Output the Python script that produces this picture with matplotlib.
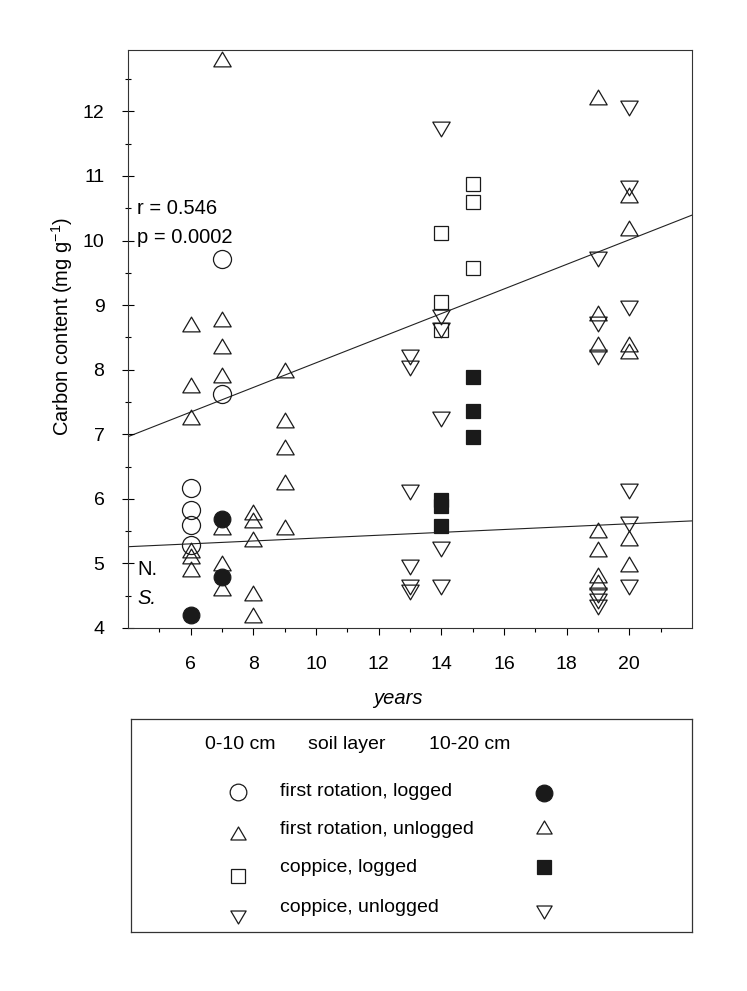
import matplotlib.pyplot as plt
from matplotlib.path import Path
import numpy as np

plt.rcParams['font.family'] = ['Liberation Sans', 'DejaVu Sans']
plt.rcParams['mathtext.fontset'] = 'custom'
plt.rcParams['mathtext.rm'] = 'Liberation Sans'
plt.rcParams['mathtext.it'] = 'Liberation Sans:italic'

# --- data ---
# first rotation, logged: 0-10 cm open, 10-20 cm filled
circ_open_x = [6, 6, 6, 6, 7, 7]
circ_open_y = [6.17, 5.83, 5.60, 5.29, 9.71, 7.63]
circ_fill_x = [6, 7, 7]
circ_fill_y = [4.20, 5.69, 4.79]

# first rotation, unlogged: same open symbol for both layers
tri_up_x = [6, 6, 6, 6, 6, 6,
            7, 7, 7, 7, 7, 7, 7,
            8, 8, 8, 8, 8,
            9, 9, 9, 9, 9,
            19, 19, 19, 19, 19, 19, 19,
            20, 20, 20, 20, 20, 20]
tri_up_y = [8.71, 7.77, 7.27, 5.21, 5.12, 4.91,
            12.81, 8.78, 8.36, 7.92, 5.57, 5.00, 4.62,
            5.80, 5.67, 5.38, 4.54, 4.20,
            7.99, 7.22, 6.81, 6.26, 5.57,
            12.22, 8.87, 8.39, 5.52, 5.22, 4.82, 4.71,
            10.71, 10.20, 8.39, 8.29, 5.40, 4.99]

# coppice, logged: 0-10 cm open, 10-20 cm filled
sq_open_x = [14, 14, 14, 15, 15, 15]
sq_open_y = [10.11, 9.05, 8.62, 10.88, 10.59, 9.57]
sq_fill_x = [14, 14, 14, 15, 15, 15]
sq_fill_y = [5.98, 5.89, 5.58, 7.89, 7.36, 6.96]

# coppice, unlogged: same open symbol for both layers
tri_dn_x = [13, 13, 13, 13, 13, 13,
            14, 14, 14, 14, 14, 14,
            19, 19, 19, 19, 19, 19,
            20, 20, 20, 20, 20, 20]
tri_dn_y = [8.20, 8.03, 6.11, 4.95, 4.64, 4.56,
            11.72, 8.81, 8.62, 7.24, 5.22, 4.64,
            9.72, 8.70, 8.19, 4.51, 4.42, 4.33,
            12.05, 10.81, 8.95, 6.12, 5.61, 4.64]

# regression lines (intercept, slope)
fit_upper = (6.20, 0.1906)
fit_lower = (5.17, 0.0222)
stats_text = ['r = 0.546', 'p = 0.0002']

legend_rows = ['first rotation, logged', 'first rotation, unlogged',
               'coppice, logged', 'coppice, unlogged']

# flattened triangles like the original symbols
tri_up = Path([(0, 0.85), (-1, -0.85), (1, -0.85), (0, 0.85)], closed=True)
tri_dn = Path([(0, -0.85), (-1, 0.85), (1, 0.85), (0, -0.85)], closed=True)

ink = '#1a1a1a'
open_kw = dict(ls='none', mfc='none', mec=ink, mew=0.9)
fill_kw = dict(ls='none', mfc=ink, mec=ink, mew=0.9)

fig = plt.figure(figsize=(7.47, 9.91), dpi=100)
ax = fig.add_axes([128/747, 1-628/991, 564/747, 578/991])

ax.plot(tri_up_x, tri_up_y, marker=tri_up, ms=12.5, **open_kw)
ax.plot(tri_dn_x, tri_dn_y, marker=tri_dn, ms=12.5, **open_kw)
ax.plot(circ_open_x, circ_open_y, marker='o', ms=13, **open_kw)
ax.plot(circ_fill_x, circ_fill_y, marker='o', ms=12, **fill_kw)
ax.plot(sq_open_x, sq_open_y, marker='s', ms=10.5, **open_kw)
ax.plot(sq_fill_x, sq_fill_y, marker='s', ms=10, **fill_kw)

ax.set_xlim(4, 22)
ax.set_ylim(4, 12.95)
xs = np.array(ax.get_xlim())
for b0, b1 in (fit_upper, fit_lower):
    ax.plot(xs, b0 + b1*xs, color='#222222', lw=0.8, zorder=1)

ax.set_xticks(range(6, 21, 2))
ax.set_xticks(range(5, 23, 2), minor=True)
ax.set_yticks(range(4, 13))
ax.set_yticks(np.arange(4.5, 13, 1), minor=True)
ax.tick_params(axis='x', which='major', direction='out', length=5, width=0.8, pad=15, labelsize=14)
ax.tick_params(axis='x', which='minor', direction='out', length=3, width=0.8)
ax.tick_params(axis='y', which='major', direction='inout', length=8, width=0.8, pad=13, labelsize=14)
ax.tick_params(axis='y', which='minor', direction='inout', length=5, width=0.8)
for s in ax.spines.values():
    s.set_linewidth(0.8)
    s.set_color('#333333')

ax.text(4.3, 10.49, stats_text[0], fontsize=14.5, va='center')
ax.text(4.3, 10.05, stats_text[1], fontsize=14.5, va='center')
ax.text(4.3, 4.91, 'N.', fontsize=14.5, va='center')
ax.text(4.3, 4.45, 'S.', fontsize=14.5, va='center', style='italic')

fig.text(62/747, 1-327/991, 'Carbon content (mg g$^{-1}$)', rotation=90,
         ha='center', va='center', fontsize=14.5)
fig.text(398/747, 1-698/991, 'years', ha='center', va='center',
         fontsize=14.5, style='italic')

# legend box drawn by hand (two soil layers side by side)
lg = fig.add_axes([131/747, 1-932/991, 561/747, 213/991])
lg.set_xlim(131, 692)
lg.set_ylim(932, 719)
lg.set_xticks([])
lg.set_yticks([])
for s in lg.spines.values():
    s.set_linewidth(0.9)
    s.set_color('#333333')
lg.text(240, 745, '0-10 cm', ha='center', va='center', fontsize=14)
lg.text(347, 745, 'soil layer', ha='center', va='center', fontsize=14)
lg.text(470, 745, '10-20 cm', ha='center', va='center', fontsize=14)

row_y = [792, 829, 868, 907]
left_y = [792, 833, 876, 917]
right_y = [793, 827, 867, 912]
left_sym = [('o', 12, open_kw), (tri_up, 11, open_kw), ('s', 10, open_kw), (tri_dn, 11, open_kw)]
right_sym = [('o', 12, fill_kw), (tri_up, 11, open_kw), ('s', 10, fill_kw), (tri_dn, 11, open_kw)]
for i, name in enumerate(legend_rows):
    lg.text(280, row_y[i], name, va='center', fontsize=14)
    m, ms, kw = left_sym[i]
    lg.plot([238], [left_y[i]], marker=m, ms=ms, **kw)
    m, ms, kw = right_sym[i]
    lg.plot([544], [right_y[i]], marker=m, ms=ms, **kw)

fig.savefig('out.png', dpi=100)
